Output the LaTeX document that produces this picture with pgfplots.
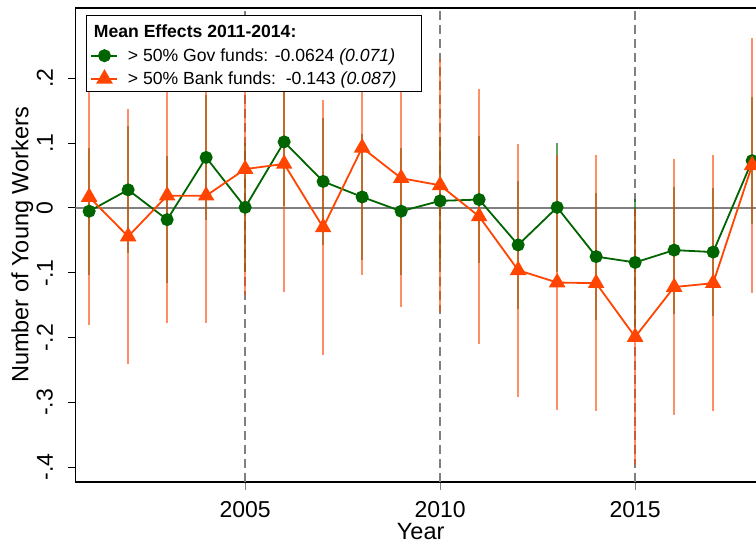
\documentclass[border=0pt]{standalone}
\usepackage{fontspec}
\setmainfont{Liberation Sans}
\usepackage{graphicx}
\usepackage{pgfplots}
\pgfplotsset{compat=1.18}
\usepackage{pgfplotstable}
\definecolor{dkg}{RGB}{0,100,0}
\definecolor{org}{RGB}{255,69,0}
\definecolor{refgray}{RGB}{128,128,128}
\newcommand{\ytl}[1]{\rotatebox{90}{#1}}

\pgfplotstableread{
year g ge o oe
2001 -0.005 0.098 0.017 0.197
2002 0.028 0.098 -0.044 0.197
2003 -0.018 0.098 0.019 0.197
2004 0.078 0.097 0.019 0.197
2005 0.001 0.099 0.060 0.195
2006 0.102 0.099 0.068 0.197
2007 0.041 0.098 -0.030 0.197
2008 0.017 0.097 0.093 0.196
2009 -0.005 0.098 0.046 0.198
2010 0.011 0.098 0.035 0.195
2011 0.013 0.098 -0.013 0.197
2012 -0.057 0.099 -0.096 0.195
2013 0.001 0.099 -0.115 0.197
2014 -0.075 0.098 -0.116 0.198
2015 -0.084 0.098 -0.199 0.198
2016 -0.065 0.098 -0.122 0.197
2017 -0.068 0.099 -0.116 0.197
2018 0.073 0.098 0.066 0.197
}\data

\begin{document}
\begin{tikzpicture}
\useasboundingbox (-75.5pt,-62pt) rectangle (680.5pt,482pt);
\begin{axis}[
  scale only axis,
  width=690.3pt, height=474pt,
  xmin=2000.65, xmax=2018.35,
  ymin=-0.4228, ymax=0.3086,
  xtick={2005,2010,2015},
  xticklabels={2005,2010,2015},
  ytick={-0.4,-0.3,-0.2,-0.1,0,0.1,0.2},
  yticklabels={\ytl{-.4},\ytl{-.3},\ytl{-.2},\ytl{-.1},\ytl{0},\ytl{.1},\ytl{.2}},
  xtick pos=bottom, ytick pos=left,
  tick align=outside,
  major tick length=8pt,
  x tick style={refgray, line width=1pt},
  y tick style={black, line width=1pt},
  axis line style={black, line width=1.5pt},
  /pgf/number format/assume math mode=true,
  ticklabel style={font=\fontsize{23}{27}\selectfont},
  xticklabel style={yshift=-8pt},
  yticklabel style={anchor=east, inner sep=0pt, xshift=-14.5pt},
  xlabel={Year},
  ylabel={Number of Young Workers},
  label style={font=\fontsize{23.5}{28}\selectfont},
  xlabel style={at={(axis description cs:0.5,0)}, anchor=base, yshift=-57pt},
  ylabel style={at={(axis description cs:0,0.5)}, anchor=base, yshift=47pt},
  legend style={at={(rel axis cs:0.0152,0.985)}, anchor=north west,
    draw=black, line width=1.2pt, fill=white,
    font=\fontsize{17.6}{21}\selectfont,
    cells={anchor=west},
    nodes={inner sep=0pt, text height=13pt, text depth=4pt},
    row 1/.style={nodes={text height=17.7pt, text depth=8pt}},
    inner xsep=4pt, inner ysep=6.5pt, row sep=6pt,
    column sep=9.5pt},
  legend image code/.code={\draw[mark repeat=2,mark phase=2] plot coordinates {(0pt,-2pt) (13pt,-2pt) (26pt,-2pt)};},
  legend entries={{\hspace*{-34pt}\raisebox{-2pt}{\textbf{Mean Effects 2011-2014:}}},
    {\raisebox{-3pt}{> 50\% Gov funds: -0.0624 \textit{(0.071)}}},
    {\raisebox{-3pt}{> 50\% Bank funds:~~-0.143 \textit{(0.087)}}\hspace*{21pt}}},
]
\draw[refgray, line width=2pt] (axis cs:2000.65,0) -- (axis cs:2018.35,0);
\draw[refgray, line width=2pt, dash pattern=on 9pt off 5pt] (axis cs:2005,-0.4228) -- (axis cs:2005,0.3086);
\draw[refgray, line width=2pt, dash pattern=on 9pt off 5pt] (axis cs:2010,-0.4228) -- (axis cs:2010,0.3086);
\draw[refgray, line width=2pt, dash pattern=on 9pt off 5pt] (axis cs:2015,-0.4228) -- (axis cs:2015,0.3086);

\addplot[forget plot, only marks, mark=none,
  error bars/.cd, y dir=both, y explicit, error mark=none,
  error bar style={dkg, line width=2pt, opacity=0.6}]
  table[x=year, y=g, y error=ge] {\data};
\addplot[forget plot, only marks, mark=none,
  error bars/.cd, y dir=both, y explicit, error mark=none,
  error bar style={org, line width=2pt, opacity=0.6}]
  table[x=year, y=o, y error=oe] {\data};

\addlegendimage{empty legend}
\addplot[dkg, line width=1.8pt, mark=*, mark size=5.6pt, mark options={solid}]
  table[x=year, y=g] {\data};
\addplot[org, line width=1.8pt, mark=triangle*, mark size=7.8pt, mark options={solid}]
  table[x=year, y=o] {\data};
\end{axis}
\end{tikzpicture}
\end{document}
